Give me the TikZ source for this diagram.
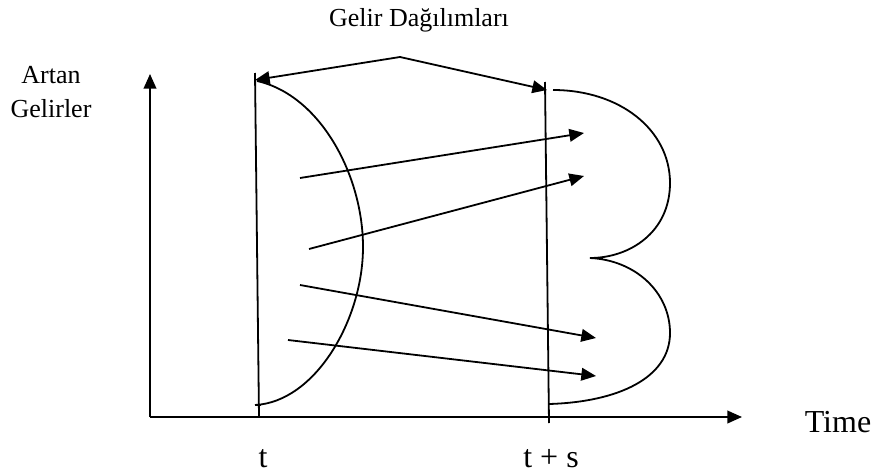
\documentclass[tikz,border=0pt]{standalone}
\usepackage{fontspec}
\setmainfont{Liberation Serif}
\usetikzlibrary{arrows.meta}
\begin{document}
\begin{tikzpicture}[x=0.75pt,y=-0.75pt,
  line/.style={line width=1.35pt, black},
  arr/.style={line, -{Triangle[length=11pt,width=9.5pt]}},
  small/.style={font=\fontsize{19.5}{23}\selectfont, inner sep=0pt, anchor=base},
  big/.style={font=\fontsize{24}{28}\selectfont, inner sep=0pt, anchor=base}]
\useasboundingbox (0,0) rectangle (875,475);
% axes
\coordinate (O) at (150,417);
\coordinate (Ytop) at (150,74);
\coordinate (Xend) at (742,417);
\draw[arr] (O) -- (Ytop);
\draw[arr] (O) -- (Xend);
% time lines
\coordinate (L1) at (255,73);
\coordinate (L2) at (259,417);
\draw[line] (L1) -- (L2);
\coordinate (R1) at (545,82);
\coordinate (R2) at (549,423);
\draw[line] (R1) -- (R2);
% top arrows
\coordinate (apex) at (400,57);
\coordinate (ltip) at (255,80);
\coordinate (rtip) at (547,90);
\draw[arr] (apex) -- (ltip);
\draw[arr] (apex) -- (rtip);
% left distribution
\coordinate (Dtop) at (257,81);
\coordinate (Dmid) at (363,247);
\coordinate (Dbot) at (255,405);
\draw[line] (Dtop) .. controls (320,95) and (363,175) .. (Dmid)
  .. controls (363,320) and (315,402) .. (Dbot);
\draw[line] (Dbot) -- ++(6,0);
% right distribution
\coordinate (Btop) at (553,90);
\coordinate (Bup) at (670,183);
\coordinate (Bcusp) at (590,258);
\coordinate (Blow) at (670,333);
\coordinate (Bbot) at (549,404);
\draw[line] (Btop) .. controls (620,90) and (670,130) .. (Bup)
  .. controls (670,232) and (630,258) .. (Bcusp)
  .. controls (635,260) and (670,292) .. (Blow)
  .. controls (670,378) and (618,402) .. (Bbot);
% transitions
\coordinate (a1) at (300,178); \coordinate (b1) at (584,133);
\coordinate (a2) at (309,249); \coordinate (b2) at (584,176);
\coordinate (a3) at (300,285); \coordinate (b3) at (596,338);
\coordinate (a4) at (288,340); \coordinate (b4) at (596,376);
\draw[arr] (a1) -- (b1);
\draw[arr] (a2) -- (b2);
\draw[arr] (a3) -- (b3);
\draw[arr] (a4) -- (b4);
% labels
\node[small] (title) at (419,26) {Gelir Dağılımları};
\node[small] (artan) at (51,83) {Artan};
\node[small] (gelirler) at (51,117) {Gelirler};
\node[big] (time) at (838,432) {Time};
\node[big] (t) at (263,467) {t};
\node[big] (ts) at (551,467) {t + s};
\end{tikzpicture}
\end{document}
